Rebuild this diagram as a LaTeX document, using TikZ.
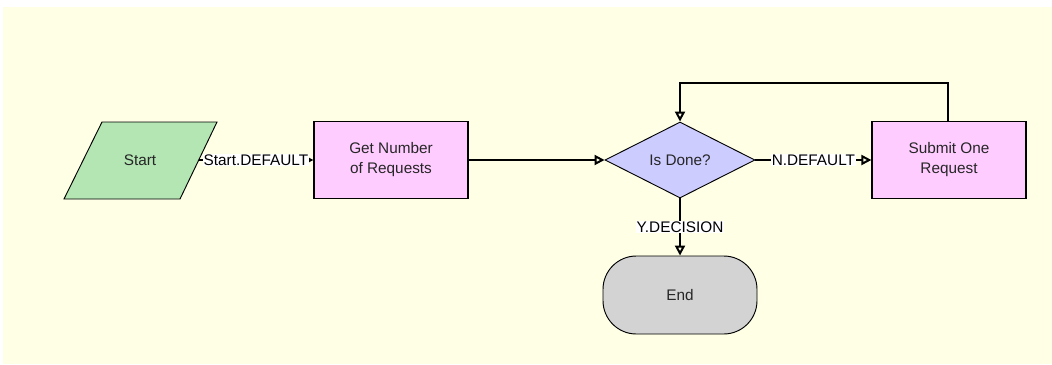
\documentclass[tikz,border=0pt]{standalone}
\usepackage{fontspec}
\setmainfont{Liberation Sans}
\usetikzlibrary{shapes.geometric,arrows.meta}
\definecolor{bgyellow}{RGB}{255,255,230}
\definecolor{startgreen}{RGB}{179,230,179}
\definecolor{boxpink}{RGB}{255,204,255}
\definecolor{decblue}{RGB}{204,204,255}
\definecolor{endgray}{RGB}{211,211,211}
\tikzset{
  px/.style={x=0.75pt,y=-0.75pt},
  txt/.style={font=\fontsize{11.5pt}{15pt}\selectfont, align=center, text=black!85},
  stepbox/.style={draw=black, line width=0.9pt, fill=boxpink, minimum width=115.5pt, minimum height=57.75pt, inner sep=0pt, txt},
  decbox/.style={draw=black, line width=0.7pt, fill=decblue, shape=diamond, minimum width=112.5pt, minimum height=57pt, inner sep=0pt, txt},
  endbox/.style={draw=black, line width=0.7pt, fill=endgray, rectangle, rounded corners=25pt, minimum width=115.5pt, minimum height=58.5pt, inner sep=0pt, txt},
  conn/.style={draw=black, line width=1.6pt, -{Triangle[open, length=7.5pt, width=7.5pt, line width=1.5pt]}},
  lbl/.style={fill=white, inner sep=0.8pt, font=\fontsize{11.5pt}{13pt}\selectfont, text=black}
}
\begin{document}
\begin{tikzpicture}[px]
\useasboundingbox (0,0) rectangle (1052,364);
\fill[white] (0,0) rectangle (1052,364);
\fill[bgyellow] (3,7) rectangle (1052,364);
% Start parallelogram
\draw[line width=0.7pt, fill=startgreen] (102,122) -- (217,122) -- (180,199) -- (64,199) -- cycle;
\node[txt] (start) at (140,160) {Start};
\coordinate (startout) at (198.5,160);
% Other nodes
\node[stepbox] (getnum) at (391,160) {Get Number\\of Requests};
\node[decbox] (isdone) at (680,160) {Is Done?};
\node[stepbox] (submit) at (949,160) {Submit One\\Request};
\node[endbox] (end) at (680,295) {End};
% Connectors
\draw[conn] (startout) -- (getnum.west) node[lbl, midway] {Start.DEFAULT};
\draw[conn] (getnum.east) -- (isdone.west);
\draw[conn] (isdone.east) -- (submit.west) node[lbl, midway] {N.DEFAULT};
\draw[conn] (isdone.south) -- (end.north) node[lbl, pos=0.5] {Y.DECISION};
\coordinate (loopa) at (948,83);
\coordinate (loopb) at (680,83);
\draw[conn] (submit.north -| loopa) -- (loopa) -- (loopb) -- (isdone.north);
\end{tikzpicture}
\end{document}
